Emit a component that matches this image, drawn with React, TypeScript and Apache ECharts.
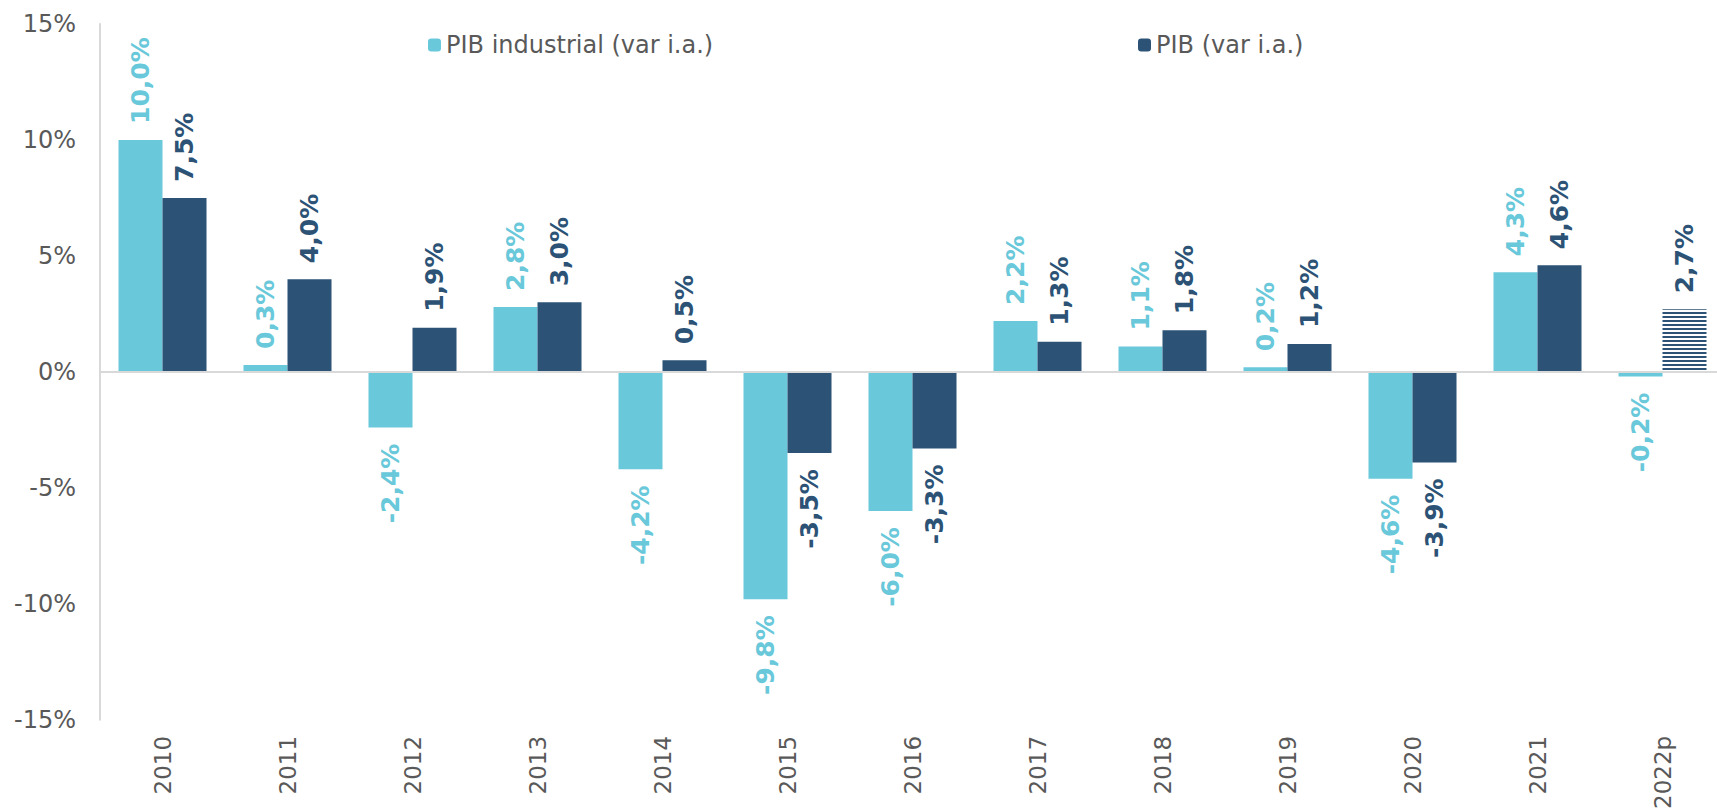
import React, { useEffect, useRef } from "react";
import * as echarts from "echarts";

const categories = ["2010", "2011", "2012", "2013", "2014", "2015", "2016", "2017", "2018", "2019", "2020", "2021", "2022p"];
const industrial = [10.0, 0.3, -2.4, 2.8, -4.2, -9.8, -6.0, 2.2, 1.1, 0.2, -4.6, 4.3, -0.2];
const pib = [7.5, 4.0, 1.9, 3.0, 0.5, -3.5, -3.3, 1.3, 1.8, 1.2, -3.9, 4.6, 2.7];
const projectedIndex = 12;

const LIGHT = "#69c8da";
const DARK = "#2c5376";
const TEXT = "#595959";
const AXIS = "#d9d9d9";
const FONT = "'DejaVu Sans', Verdana, sans-serif";

const fmt = (v: number) => v.toFixed(1).replace(".", ",") + "%";

function labelFor(v: number, color: string) {
  const pos = v >= 0;
  return {
    show: true,
    position: pos ? "top" : "bottom",
    rotate: 90,
    align: pos ? "left" : "right",
    verticalAlign: "middle",
    distance: 16,
    color,
    fontFamily: FONT,
    fontWeight: "bold",
    fontSize: 25,
    formatter: () => fmt(v),
  };
}

export default function App() {
  const ref = useRef<HTMLDivElement>(null);
  useEffect(() => {
    if (!ref.current) return;
    const chart = echarts.init(ref.current, null, { renderer: "svg" });
    chart.setOption({
      animation: false,
      backgroundColor: "#ffffff",
      textStyle: { fontFamily: FONT },
      legend: [
        {
          data: ["PIB industrial (var i.a.)"],
          left: 428,
          top: 33,
          padding: 0,
          itemWidth: 13,
          itemHeight: 13,
          itemGap: 6,
          textStyle: { color: TEXT, fontSize: 24, fontFamily: FONT },
        },
        {
          data: ["PIB (var i.a.)"],
          left: 1138,
          top: 33,
          padding: 0,
          itemWidth: 13,
          itemHeight: 13,
          textStyle: { color: TEXT, fontSize: 24, fontFamily: FONT },
        },
      ],
      grid: { left: 100, right: 0, top: 24, bottom: 92, containLabel: false },
      xAxis: {
        type: "category",
        data: categories,
        position: "bottom",
        axisLine: { show: false },
        axisTick: { show: false },
        axisLabel: {
          rotate: 90,
          margin: 16,
          color: TEXT,
          fontSize: 23,
          fontFamily: FONT,
          interval: 0,
        },
      },
      yAxis: {
        type: "value",
        min: -15,
        max: 15,
        interval: 5,
        axisLine: { show: true, lineStyle: { color: AXIS, width: 2 } },
        axisTick: { show: false },
        splitLine: { show: false },
        axisLabel: {
          margin: 24,
          color: TEXT,
          fontSize: 24,
          fontFamily: FONT,
          formatter: (v: number) => v + "%",
        },
      },
      series: [
        {
          name: "PIB industrial (var i.a.)",
          type: "bar",
          barWidth: 44,
          barGap: "0%",
          itemStyle: { color: LIGHT },
          data: industrial.map((v) => ({ value: v, label: labelFor(v, LIGHT) })),
          markLine: {
            silent: true,
            symbol: "none",
            label: { show: false },
            lineStyle: { color: AXIS, width: 2, type: "solid" },
            data: [{ yAxis: 0 }],
          },
          z: 3,
        },
        {
          name: "PIB (var i.a.)",
          type: "bar",
          barWidth: 44,
          barGap: "0%",
          itemStyle: { color: DARK },
          data: pib.map((v, i) =>
            i === projectedIndex
              ? {
                  value: v,
                  label: labelFor(v, DARK),
                  itemStyle: {
                    color: "#ffffff",
                    decal: {
                      symbol: "rect",
                      symbolSize: 1,
                      color: DARK,
                      backgroundColor: "#ffffff",
                      dashArrayX: [1, 0],
                      dashArrayY: [2, 2],
                      rotation: 0,
                    },
                  },
                }
              : { value: v, label: labelFor(v, DARK) }
          ),
          z: 3,
        },
      ],
    });
    return () => chart.dispose();
  }, []);
  return (
    <div style={{ position: "fixed", left: 0, top: 0, width: 1717, height: 812, overflow: "hidden", background: "#ffffff" }}>
      <div ref={ref} style={{ width: 1725, height: 812 }} />
    </div>
  );
}
